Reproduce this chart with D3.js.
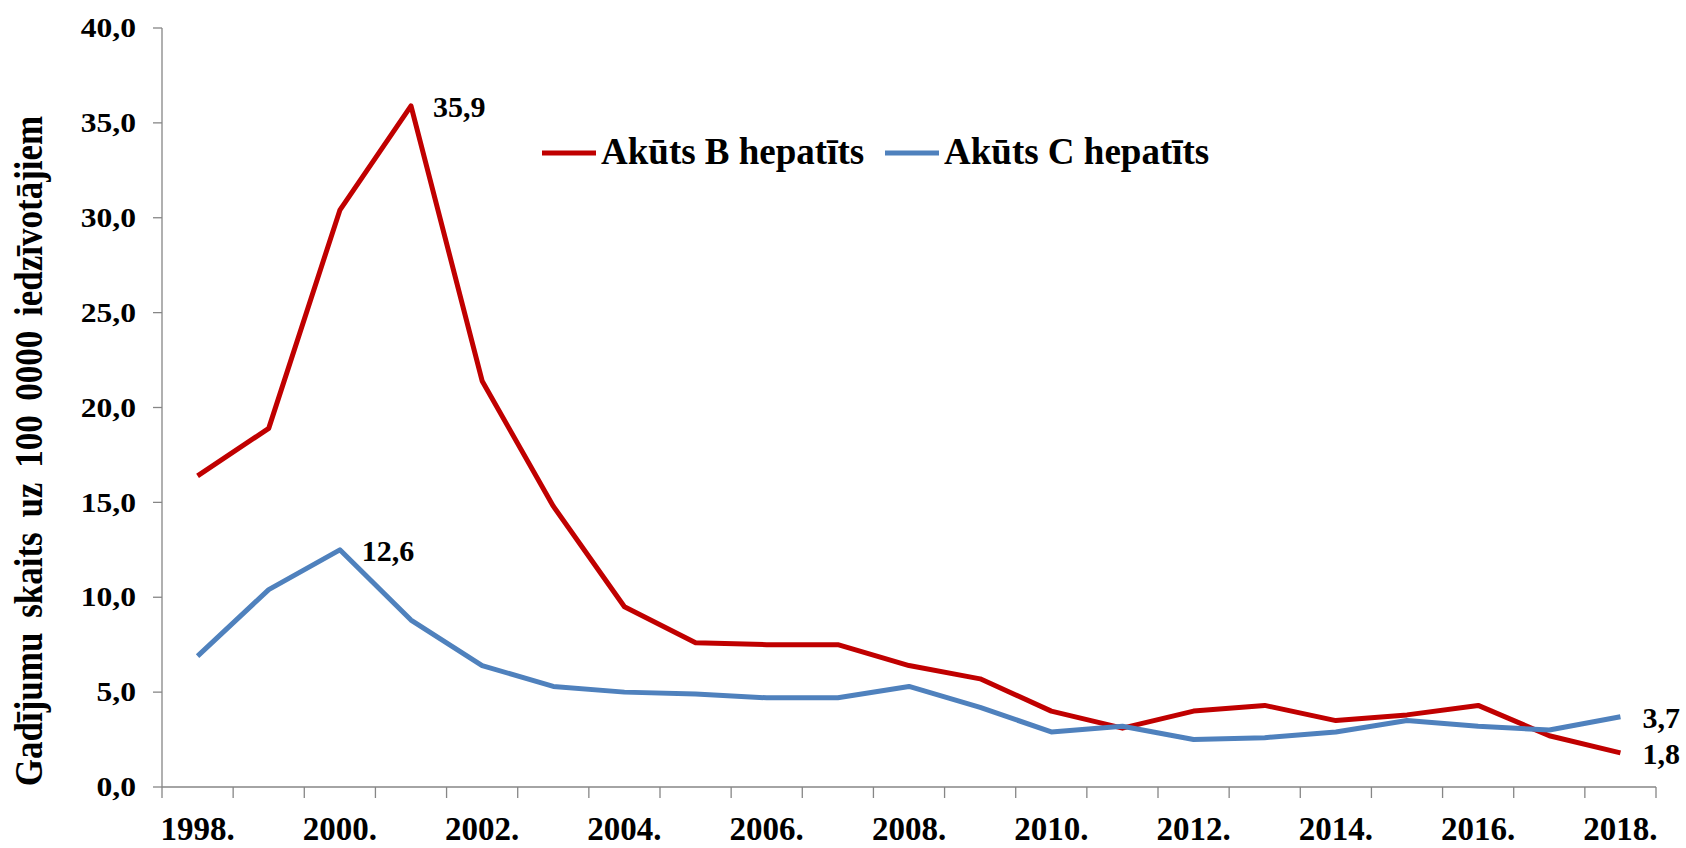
<!DOCTYPE html>
<html>
<head>
<meta charset="utf-8">
<script src="https://cdn.jsdelivr.net/npm/d3@7"></script>
<style>
    body { margin: 0; background: #ffffff; }
    text { font-family: "Liberation Serif", "Times New Roman", serif; font-weight: bold; fill: #000000; }
</style>
</head>
<body>
<div id="chart"></div>
<script>
// Chart data
let years = ["1998", "1999", "2000", "2001", "2002", "2003", "2004", "2005", "2006", "2007", "2008",
             "2009", "2010", "2011", "2012", "2013", "2014", "2015", "2016", "2017", "2018"];
let hepB = [16.4, 18.9, 30.4, 35.9, 21.4, 14.8, 9.5, 7.6, 7.5, 7.5, 6.4,
            5.7, 4.0, 3.1, 4.0, 4.3, 3.5, 3.8, 4.3, 2.7, 1.8];
let hepC = [6.9, 10.4, 12.5, 8.8, 6.4, 5.3, 5.0, 4.9, 4.7, 4.7, 5.3,
            4.2, 2.9, 3.2, 2.5, 2.6, 2.9, 3.5, 3.2, 3.0, 3.7];
let yTicks = [0, 5, 10, 15, 20, 25, 30, 35, 40];
let seriesNames = ["Akūts B hepatīts", "Akūts C hepatīts"];
let seriesColors = ["#C00000", "#4F81BD"];
// labelled points: [series index, year index, text]
let pointLabels = [[0, 3, "35,9"], [1, 2, "12,6"], [1, 20, "3,7"], [0, 20, "1,8"]];
let yTitle = "Gadījumu skaits uz 100 0000 iedzīvotājiem";

const width = 1686, height = 848;
const plotLeft = 162, plotRight = 1656, plotTop = 28, plotBottom = 787;
const axisColor = "#868686";

let svg = d3.select("#chart").append("svg")
    .attr("width", width)
    .attr("height", height);

let x = d3.scaleBand().domain(years).range([plotLeft, plotRight]).paddingInner(0).paddingOuter(0);
let y = d3.scaleLinear().domain([0, 40]).range([plotBottom, plotTop]);
let cx = function(yr) { return x(yr) + x.bandwidth() / 2; };

function fmt(v) { return d3.format(".1f")(v).replace(".", ","); }

// y axis: line, outward ticks, squat wide labels like the original
svg.append("line")
    .attr("x1", plotLeft).attr("x2", plotLeft)
    .attr("y1", y(40)).attr("y2", y(0))
    .style("stroke", axisColor).style("stroke-width", 1.3);

yTicks.forEach(function(t) {
    svg.append("line")
        .attr("x1", plotLeft - 9).attr("x2", plotLeft)
        .attr("y1", y(t)).attr("y2", y(t))
        .style("stroke", axisColor).style("stroke-width", 1.3);
    svg.append("g")
        .attr("transform", "translate(136," + y(t) + ") scale(1.17,1)")
        .append("text")
        .attr("text-anchor", "end")
        .attr("dy", "0.34em")
        .style("font-size", "27px")
        .text(fmt(t));
});

// x axis: line with ticks on category boundaries, labels every second year
svg.append("line")
    .attr("x1", plotLeft).attr("x2", plotRight)
    .attr("y1", y(0)).attr("y2", y(0))
    .style("stroke", axisColor).style("stroke-width", 1.3);

for (let i = 0; i <= years.length; i++) {
    let tx = i < years.length ? x(years[i]) : plotRight;
    svg.append("line")
        .attr("x1", tx).attr("x2", tx)
        .attr("y1", y(0)).attr("y2", y(0) + 11)
        .style("stroke", axisColor).style("stroke-width", 1.3);
}

years.forEach(function(yr, i) {
    if (i % 2 !== 0) return;
    svg.append("text")
        .attr("x", cx(yr))
        .attr("y", 840)
        .attr("text-anchor", "middle")
        .style("font-size", "33px")
        .text(yr + ".");
});

// rotated axis title
svg.append("g")
    .attr("transform", "translate(42,451) rotate(-90) scale(1,1.12)")
    .append("text")
    .attr("text-anchor", "middle")
    .style("font-size", "35px")
    .style("word-spacing", "6px")
    .text(yTitle);

// the two lines
let line = d3.line()
    .x(function(d, i) { return cx(years[i]); })
    .y(function(d) { return y(d); });

[hepB, hepC].forEach(function(values, s) {
    svg.append("path")
        .datum(values)
        .attr("d", line)
        .style("fill", "none")
        .style("stroke", seriesColors[s])
        .style("stroke-width", 5)
        .style("stroke-linejoin", "round");
});

// value labels beside chosen points
let allSeries = [hepB, hepC];
pointLabels.forEach(function(p) {
    let v = allSeries[p[0]][p[1]];
    svg.append("text")
        .attr("x", cx(years[p[1]]) + 22)
        .attr("y", y(v) + 11)
        .style("font-size", "30px")
        .text(p[2]);
});

// legend
let legendX = [542, 885];
seriesNames.forEach(function(name, s) {
    svg.append("line")
        .attr("x1", legendX[s]).attr("x2", legendX[s] + 54)
        .attr("y1", 153).attr("y2", 153)
        .style("stroke", seriesColors[s])
        .style("stroke-width", 5);
    svg.append("text")
        .attr("x", legendX[s] + 59)
        .attr("y", 164)
        .style("font-size", "37px")
        .text(name);
});
</script>
</body>
</html>
